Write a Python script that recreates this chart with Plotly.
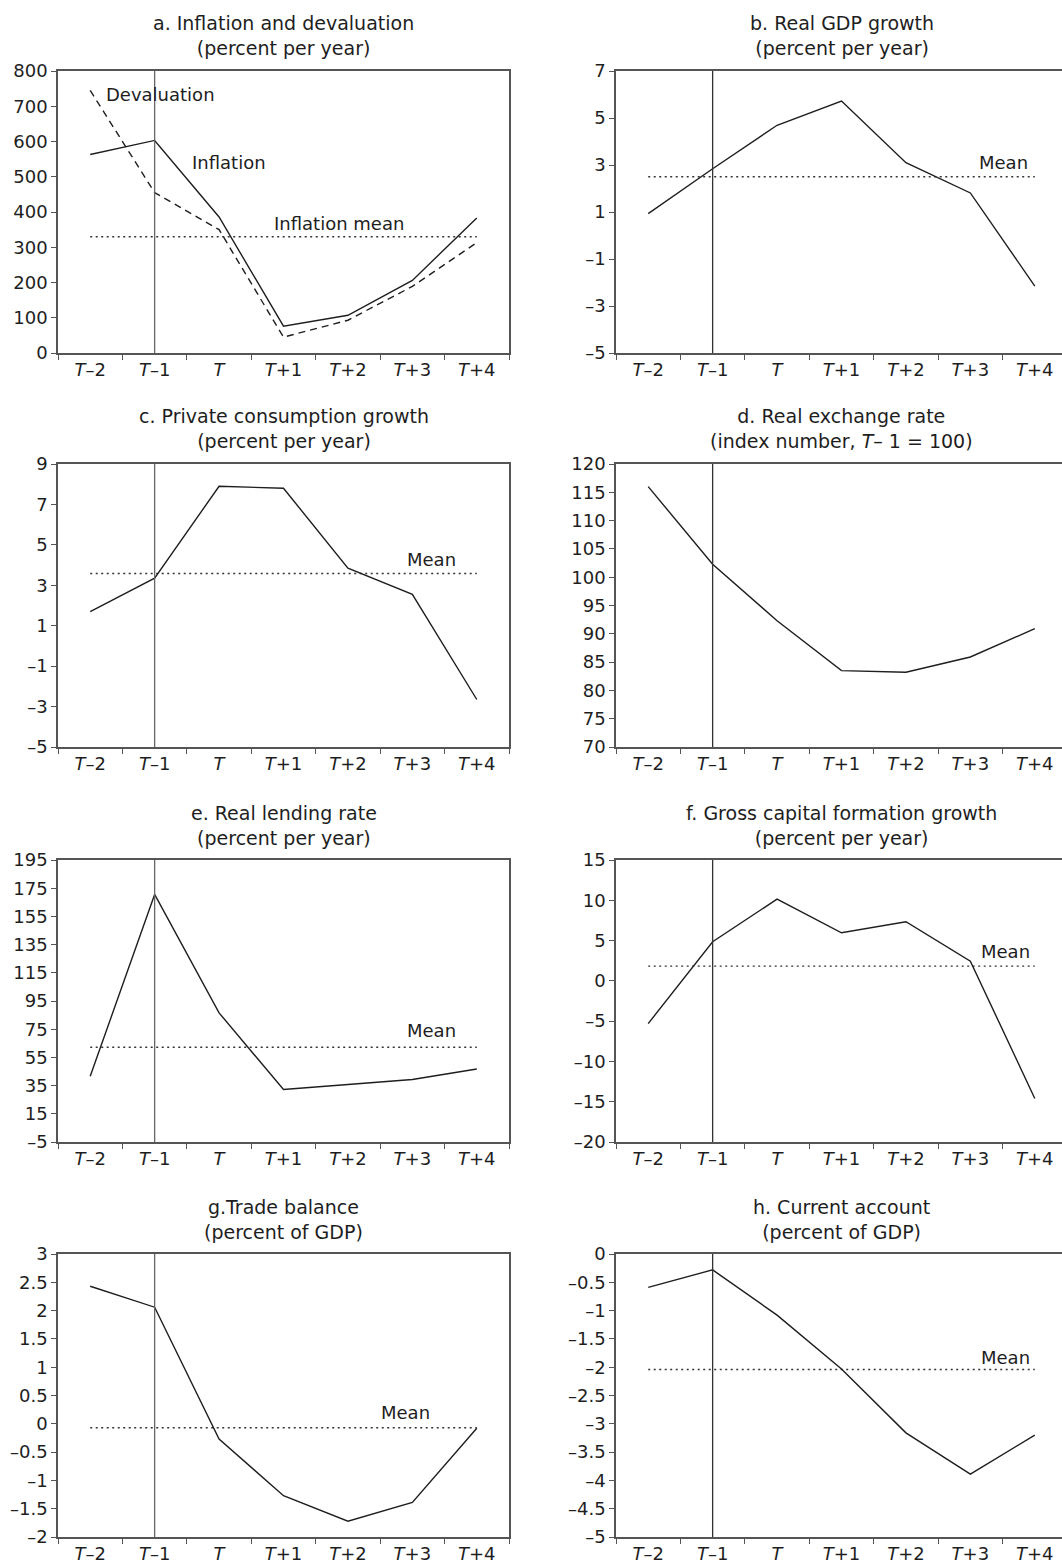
import plotly.graph_objects as go

# ---------------- data ----------------
PERIODS = ["<i>T</i>–2", "<i>T</i>–1", "<i>T</i>", "<i>T</i>+1", "<i>T</i>+2", "<i>T</i>+3", "<i>T</i>+4"]

inflation = [563, 603, 386, 76, 107, 206, 383]
devaluation = [745, 455, 350, 45, 93, 189, 313]
inflation_mean = 330

gdp_growth = [0.93, 2.84, 4.69, 5.72, 3.10, 1.81, -2.15]
gdp_mean = 2.5

consumption_growth = [1.70, 3.35, 7.90, 7.80, 3.85, 2.55, -2.65]
consumption_mean = 3.58

real_exchange_rate = [116.0, 102.3, 92.3, 83.5, 83.2, 85.9, 90.9]

lending_rate = [41.6, 170.6, 86.6, 32.2, 35.8, 39.3, 46.8]
lending_mean = 62.2

capital_growth = [-5.3, 4.85, 10.15, 5.97, 7.34, 2.45, -14.6]
capital_mean = 1.83

trade_balance = [2.43, 2.06, -0.27, -1.27, -1.72, -1.39, -0.08]
trade_mean = -0.07

current_account = [-0.59, -0.28, -1.08, -2.03, -3.16, -3.89, -3.20]
current_mean = -2.04

ticks_a = [0, 100, 200, 300, 400, 500, 600, 700, 800]
ticks_b = [-5, -3, -1, 1, 3, 5, 7]
ticks_c = [-5, -3, -1, 1, 3, 5, 7, 9]
ticks_d = [70, 75, 80, 85, 90, 95, 100, 105, 110, 115, 120]
ticks_e = [-5, 15, 35, 55, 75, 95, 115, 135, 155, 175, 195]
ticks_f = [-20, -15, -10, -5, 0, 5, 10, 15]
ticks_g = [-2, -1.5, -1, -0.5, 0, 0.5, 1, 1.5, 2, 2.5, 3]
ticks_h = [-5, -4.5, -4, -3.5, -3, -2.5, -2, -1.5, -1, -0.5, 0]

titles = [
    "a. Inflation and devaluation<br>(percent per year)",
    "b. Real GDP growth<br>(percent per year)",
    "c. Private consumption growth<br>(percent per year)",
    "d. Real exchange rate<br>(index number, <i>T</i>– 1 = 100)",
    "e. Real lending rate<br>(percent per year)",
    "f. Gross capital formation growth<br>(percent per year)",
    "g.Trade balance<br>(percent of GDP)",
    "h. Current account<br>(percent of GDP)",
]

# ---------------- layout geometry ----------------
W, H = 1062, 1566
FONT = "DejaVu Sans"
FS = 18
FS_TITLE = 19
INK = "#1e1e1e"
AXIS = "#555555"

col_px = [(58, 509), (616, 1062)]
row_px = [(71, 353), (464, 747), (860, 1142), (1254, 1537)]
cat_w = (509 - 58) / 7.0


def fmt(v):
    s = "%g" % abs(v)
    return ("–" + s) if v < 0 else s


panels = [
    dict(series=[(inflation, "solid"), (devaluation, "7px,5px")], mean=inflation_mean, ticks=ticks_a),
    dict(series=[(gdp_growth, "solid")], mean=gdp_mean, ticks=ticks_b),
    dict(series=[(consumption_growth, "solid")], mean=consumption_mean, ticks=ticks_c),
    dict(series=[(real_exchange_rate, "solid")], mean=None, ticks=ticks_d),
    dict(series=[(lending_rate, "solid")], mean=lending_mean, ticks=ticks_e),
    dict(series=[(capital_growth, "solid")], mean=capital_mean, ticks=ticks_f),
    dict(series=[(trade_balance, "solid")], mean=trade_mean, ticks=ticks_g),
    dict(series=[(current_account, "solid")], mean=current_mean, ticks=ticks_h),
]

# in-panel labels: (text, x position in category units, y value, xanchor)
labels = {
    0: [("Devaluation", 0.21, 732, "left"), ("Inflation", 1.55, 540, "left"),
        ("Inflation mean", 2.82, 366, "left")],
    1: [("Mean", 5.92, 3.1, "right")],
    2: [("Mean", 5.71, 4.26, "right")],
    4: [("Mean", 5.71, 73.8, "right")],
    5: [("Mean", 5.96, 3.6, "right")],
    6: [("Mean", 5.30, 0.20, "right")],
    7: [("Mean", 5.95, -1.82, "right")],
}

fig = go.Figure()
layout = dict(
    template="none",
    width=W, height=H, margin=dict(l=0, r=0, t=0, b=0, pad=0), autosize=False,
    paper_bgcolor="white", plot_bgcolor="white", showlegend=False,
    font=dict(family=FONT, size=FS, color=INK),
)
annotations = []
shapes = []

for i, p in enumerate(panels):
    r, c = divmod(i, 2)
    n = i + 1
    xa = "x" if n == 1 else "x%d" % n
    ya = "y" if n == 1 else "y%d" % n
    xk = "xaxis" if n == 1 else "xaxis%d" % n
    yk = "yaxis" if n == 1 else "yaxis%d" % n
    x0, x1 = col_px[c]
    top, bot = row_px[r]
    span = (x1 - x0) / cat_w
    layout[xk] = dict(
        domain=[x0 / W, x1 / W], anchor=ya, type="category", automargin=False,
        categoryorder="array", categoryarray=PERIODS,
        range=[-0.5, -0.5 + span], tickson="boundaries",
        ticks="outside", ticklen=5, tickcolor=AXIS, tickwidth=1.3,
        showline=True, linecolor=AXIS, linewidth=1.5, mirror=True,
        showgrid=False, zeroline=False, fixedrange=True,
        tickfont=dict(family=FONT, size=FS, color=INK),
    )
    t = p["ticks"]
    layout[yk] = dict(
        domain=[1 - bot / H, 1 - top / H], anchor=xa, automargin=False,
        range=[min(t), max(t)], tickvals=t, ticktext=[fmt(v) for v in t],
        ticks="outside", ticklen=5, tickcolor=AXIS, tickwidth=1.3,
        showline=True, linecolor=AXIS, linewidth=1.5, mirror=(c == 0),
        showgrid=False, zeroline=False, fixedrange=True,
        tickfont=dict(family=FONT, size=FS, color=INK),
    )
    # vertical reference line at T-1
    shapes.append(dict(type="line", xref=xa, yref="%s domain" % ya,
                       x0=PERIODS[1], x1=PERIODS[1], y0=0, y1=1,
                       line=dict(color="#666666" if c == 0 else "#333333", width=1.3)))
    # mean line
    if p["mean"] is not None:
        fig.add_trace(go.Scatter(x=[PERIODS[0], PERIODS[-1]], y=[p["mean"], p["mean"]],
                                 mode="lines", xaxis=xa, yaxis=ya, hoverinfo="skip",
                                 line=dict(color="#333333", width=1.4, dash="2px,3.5px")))
    for vals, dash in p["series"]:
        fig.add_trace(go.Scatter(x=PERIODS, y=vals, mode="lines", xaxis=xa, yaxis=ya,
                                 line=dict(color=INK, width=1.4, dash=dash)))
    # title
    center_px = (x0 + x0 + 7 * cat_w) / 2
    annotations.append(dict(text=titles[i], xref="paper", yref="paper",
                            x=center_px / W, y=1 - (top - 35) / H,
                            xanchor="center", yanchor="middle", showarrow=False,
                            font=dict(family=FONT, size=FS_TITLE, color=INK)))
    for txt, lx, ly, anc in labels.get(i, []):
        annotations.append(dict(text=txt, xref=xa, yref=ya, x=lx, y=ly,
                                xanchor=anc, yanchor="middle", showarrow=False,
                                font=dict(family=FONT, size=FS, color=INK)))

layout["annotations"] = annotations
layout["shapes"] = shapes
fig.update_layout(**layout)

css_fix = (
    "var h=document.documentElement,b=document.body;"
    "h.style.margin='0';h.style.padding='0';h.style.overflow='hidden';"
    "b.style.margin='0';b.style.padding='0';b.style.overflow='hidden';"
)
fig.write_html("out.html", config={"displayModeBar": False}, post_script=css_fix)
